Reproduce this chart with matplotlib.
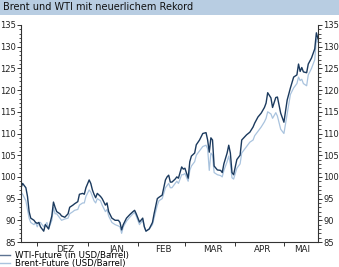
import matplotlib
matplotlib.use("Agg")
import matplotlib.pyplot as plt
import matplotlib.dates as mdates
from matplotlib.patches import Rectangle
import pandas as pd

# Schlusskurse (USD/Barrel)
dates = [
    "2007-11-21", "2007-11-22", "2007-11-24", "2007-11-25", "2007-11-26", "2007-11-27",
    "2007-11-29", "2007-11-30", "2007-12-01", "2007-12-02", "2007-12-03", "2007-12-05",
    "2007-12-06", "2007-12-07", "2007-12-08", "2007-12-10", "2007-12-11", "2007-12-12",
    "2007-12-13", "2007-12-15", "2007-12-16", "2007-12-18", "2007-12-20", "2007-12-21",
    "2007-12-23", "2007-12-24", "2007-12-26", "2007-12-27", "2007-12-29", "2007-12-30",
    "2007-12-31", "2008-01-02", "2008-01-03", "2008-01-04", "2008-01-05", "2008-01-06",
    "2008-01-07", "2008-01-09", "2008-01-10", "2008-01-12", "2008-01-13", "2008-01-14",
    "2008-01-16", "2008-01-18", "2008-01-20", "2008-01-21", "2008-01-22", "2008-01-23",
    "2008-01-25", "2008-01-27", "2008-01-29", "2008-01-30", "2008-01-31", "2008-02-02",
    "2008-02-04", "2008-02-05", "2008-02-06", "2008-02-08", "2008-02-10", "2008-02-11",
    "2008-02-13", "2008-02-14", "2008-02-16", "2008-02-18", "2008-02-19", "2008-02-20",
    "2008-02-21", "2008-02-22", "2008-02-24", "2008-02-25", "2008-02-26", "2008-02-28",
    "2008-02-29", "2008-03-01", "2008-03-03", "2008-03-04", "2008-03-05", "2008-03-07",
    "2008-03-08", "2008-03-10", "2008-03-12", "2008-03-14", "2008-03-15", "2008-03-16",
    "2008-03-17", "2008-03-18", "2008-03-19", "2008-03-21", "2008-03-23", "2008-03-24",
    "2008-03-25", "2008-03-27", "2008-03-28", "2008-03-29", "2008-03-30", "2008-03-31",
    "2008-04-02", "2008-04-04", "2008-04-05", "2008-04-08", "2008-04-10", "2008-04-12",
    "2008-04-13", "2008-04-15", "2008-04-17", "2008-04-19", "2008-04-20", "2008-04-21",
    "2008-04-23", "2008-04-24", "2008-04-26", "2008-04-27", "2008-04-28", "2008-04-29",
    "2008-05-01", "2008-05-03", "2008-05-05", "2008-05-07", "2008-05-09", "2008-05-10",
    "2008-05-11", "2008-05-12", "2008-05-13", "2008-05-15", "2008-05-16", "2008-05-18",
    "2008-05-20", "2008-05-21", "2008-05-22",
]

wti = [
    97.5, 98.5, 97.5, 95.5, 92.0, 90.5,
    90.0, 89.5, 89.3, 89.5, 88.5, 87.5,
    89.0, 88.5, 88.0, 91.0, 94.2, 93.0,
    92.0, 91.5, 91.0, 90.7, 91.5, 93.0,
    93.5, 93.8, 94.3, 96.0, 96.2, 96.0,
    97.5, 99.3, 98.5, 97.0, 96.0, 95.2,
    96.2, 95.5, 95.0, 93.5, 94.0, 92.0,
    90.5, 90.0, 90.0, 89.5, 87.8, 89.0,
    90.5, 91.3, 92.0, 92.3, 91.5, 89.6,
    90.5, 88.5, 87.5, 88.0, 89.5, 91.5,
    95.0, 95.3, 95.8, 99.3, 100.0, 100.4,
    98.8, 98.8, 99.5, 100.0, 99.7, 102.3,
    101.8, 102.0, 99.7, 103.5, 104.8, 105.5,
    107.4, 108.5, 110.0, 110.2, 108.5, 105.7,
    109.0, 108.5, 102.5, 101.6, 101.5, 101.0,
    103.0, 105.5, 107.3, 105.5, 101.0, 100.5,
    104.0, 105.0, 108.5, 109.7, 110.3, 111.5,
    112.4, 113.8, 114.7, 116.0, 117.0, 119.4,
    118.2, 116.0, 118.3, 118.4, 116.5, 114.7,
    112.6, 117.7, 120.5, 123.0, 123.5, 126.0,
    124.3, 125.2, 124.2, 124.0, 126.0, 127.4,
    129.5, 133.2, 131.8,
]

brent = [
    96.5, 96.0, 94.5, 92.5, 90.5, 89.5,
    89.0, 89.5, 88.5, 89.5, 89.5, 88.5,
    89.0, 89.5, 88.0, 90.0, 93.0, 91.5,
    91.5, 90.5, 90.0, 90.3, 90.5, 91.5,
    92.0, 92.3, 92.5, 93.5, 94.0, 94.0,
    95.5, 97.0, 96.5, 95.5, 94.5, 94.0,
    95.0, 94.5, 93.5, 92.0, 92.5, 91.0,
    89.5, 89.0, 88.7, 88.5, 87.0, 88.5,
    89.8, 90.7, 91.5, 91.8, 91.0, 89.0,
    90.0, 88.5, 87.5, 88.0, 89.0, 90.5,
    93.5, 94.5, 95.0, 97.5, 98.0, 98.5,
    97.5, 97.5, 98.5, 99.0, 98.5, 100.5,
    100.5, 100.8, 99.0, 101.5, 102.5, 103.5,
    105.0, 106.0, 107.0, 107.3, 106.5, 101.5,
    105.5, 105.0, 101.0, 100.5, 100.3, 100.0,
    101.5, 103.5, 104.8, 103.0, 99.8, 99.5,
    102.0, 103.0, 105.5, 107.0, 108.0, 108.5,
    109.5, 110.5, 111.5, 112.7, 113.5, 115.0,
    114.5, 113.5, 114.8, 114.0, 112.5, 111.0,
    110.0, 114.5, 119.0, 120.5, 121.5, 123.0,
    122.2, 122.5, 121.5, 121.0, 123.5, 125.0,
    127.0, 131.8, 131.0,
]

month_labels = ["DEZ", "JAN", "FEB", "MAR", "APR", "MAI"]
label_days = ["2007-12-18", "2008-01-19", "2008-02-17", "2008-03-18", "2008-04-18", "2008-05-12"]
title = "Brent und WTI mit neuerlichem Rekord"
labels = ["WTI-Future (in USD/Barrel)", "Brent-Future (USD/Barrel)"]

x = pd.to_datetime(dates)
dark = "#1b3a5e"
light = "#a9c3de"

fig = plt.figure(figsize=(3.39, 2.67), dpi=100)

# Titelbalken
fig.patches.append(Rectangle((0, 1 - 15 / 267), 1, 15 / 267, transform=fig.transFigure,
                             facecolor="#b8cde2", edgecolor="none", zorder=0))
fig.text(3 / 339, 1 - 7.5 / 267, title, fontsize=7.0, va="center", ha="left", color="#111111")

ax = fig.add_axes([21 / 339, 1 - 242 / 267, 297 / 339, 217 / 267])
ax.plot(x, brent, color=light, lw=0.9)
ax.plot(x, wti, color=dark, lw=1.0)

ax.set_xlim(x[0], x[-1])
ax.set_ylim(85, 135)
ax.spines["top"].set_visible(False)
for s in ["left", "right", "bottom"]:
    ax.spines[s].set_color("#333333")
    ax.spines[s].set_linewidth(0.8)

ax.set_yticks(range(85, 136, 5))
ax.set_yticks(range(85, 136, 1), minor=True)
ax.tick_params(axis="y", which="both", left=True, right=True, labelleft=True, labelright=True,
               direction="out", labelsize=6.0, pad=0.8, color="#333333", labelcolor="#222222")
ax.tick_params(axis="y", which="major", length=3, width=0.7)
ax.tick_params(axis="y", which="minor", length=1.8, width=0.6)

ax.xaxis.set_major_locator(mdates.MonthLocator())
ax.xaxis.set_major_formatter(plt.NullFormatter())
ax.set_xticks(pd.to_datetime(label_days), minor=True)
ax.set_xticklabels(month_labels, minor=True)
ax.tick_params(axis="x", which="major", length=3, width=0.7, direction="out", color="#333333")
ax.tick_params(axis="x", which="minor", length=0, labelsize=6.3, pad=2, labelcolor="#222222")

handles = [plt.Line2D([], [], color="#5d7392", lw=1.0), plt.Line2D([], [], color=light, lw=1.0)]
fig.legend(handles, labels, loc="lower left", bbox_to_anchor=(0, -0.005), frameon=False,
           fontsize=6.2, handlelength=1.2, handletextpad=0.5, labelspacing=-0.05,
           borderpad=0, borderaxespad=0)

fig.savefig("out.png", dpi=100)
